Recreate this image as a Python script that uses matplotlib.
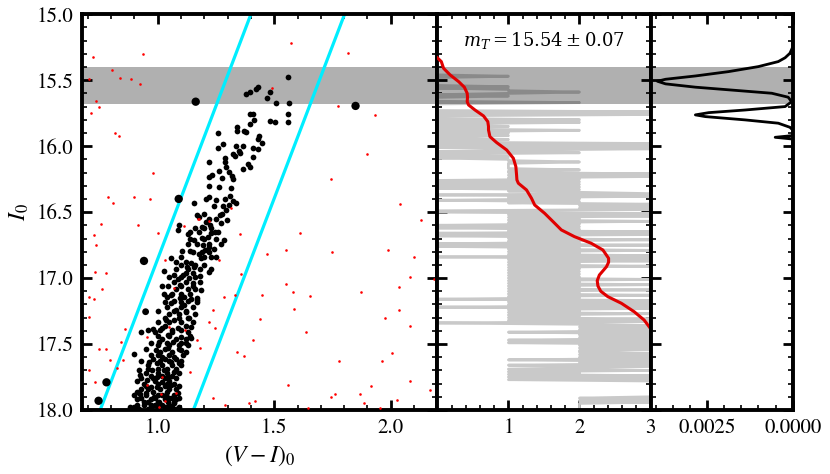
import matplotlib
matplotlib.use('Agg')
import matplotlib.pyplot as plt
from matplotlib.ticker import MultipleLocator, FixedLocator, FormatStrFormatter
import numpy as np

plt.rcParams['font.family'] = ['STIXGeneral', 'DejaVu Serif']
plt.rcParams['mathtext.fontset'] = 'stix'

# ---------------- data ----------------
# black CMD stars (V-I)_0 , I_0
rgb_color = [
    1.561, 1.432, 1.42, 1.397, 1.378, 1.48, 1.469, 1.507, 1.564, 1.395, 1.411, 1.414, 1.398, 1.482, 1.503, 1.561, 1.561,
    1.342, 1.339, 1.371, 1.377, 1.436, 1.26, 1.446, 1.432, 1.28, 1.258, 1.335, 1.367, 1.41, 1.432, 1.348, 1.323, 1.33,
    1.355, 1.29, 1.41, 1.29, 1.222, 1.294, 1.388, 1.395, 1.364, 1.263, 1.304, 1.234, 1.218, 1.319, 1.325, 1.276, 1.222,
    1.265, 1.316,
    1.219, 1.209, 1.252, 1.287, 1.31, 1.323, 1.338, 1.157, 1.304, 1.294, 1.277, 1.267, 1.198, 1.179, 1.169, 1.299, 1.27,
    1.208, 1.226, 1.189, 1.176, 1.131, 1.157, 1.189, 1.215, 1.229, 1.244, 1.283, 1.193, 1.169, 1.218, 1.241, 1.205, 1.103,
    1.139, 1.175, 1.229, 1.186, 1.121, 1.143, 1.058, 1.078, 1.126, 1.155, 1.219, 1.027, 1.071, 1.107, 1.183, 1.085, 1.136,
    1.15, 1.095, 1.045, 1.025, 1.056, 1.186, 1.168, 1.114, 1.092, 1.088,
    1.039, 1.097, 1.143, 1.169, 1.056, 1.114, 1.078, 1.121, 1.035, 1.071, 1.136, 0.981, 1.02, 1.085, 1.143, 0.929, 1.042,
    1.10, 1.006, 1.064, 1.121, 1.143, 0.991, 1.042, 1.10, 0.97, 0.897, 1.02, 1.071, 0.962, 0.999, 1.056, 1.092, 0.919,
    0.977, 1.027, 1.071, 0.926, 0.999, 1.049, 0.955, 1.02, 0.97, 0.999, 1.056, 1.085, 0.897, 0.923, 0.948, 0.984, 1.035,
    1.061, 0.941, 1.006, 1.042, 0.97, 1.071, 0.912, 0.883, 1.092,
]
rgb_mag = [
    15.478, 15.553, 15.569, 15.589, 15.607, 15.589, 15.632, 15.675, 15.675, 15.756, 15.756, 15.80, 15.834, 15.81, 15.82,
    15.76, 15.82, 15.854, 15.887, 15.882, 15.892, 15.92, 15.902, 15.976, 15.948, 15.983, 16.014, 16.001, 15.998, 16.011,
    16.019, 16.036, 16.059, 16.074, 16.049, 16.087, 16.084, 16.117, 16.122, 16.155, 16.137, 16.155, 16.173, 16.186,
    16.196, 16.216, 16.231, 16.226, 16.251, 16.243, 16.302, 16.312, 16.315,
    16.383, 16.40, 16.408, 16.40, 16.378, 16.413, 16.433, 16.433, 16.446, 16.484, 16.516, 16.522, 16.514, 16.535, 16.522,
    16.56, 16.58, 16.573, 16.597, 16.61, 16.648, 16.666, 16.711, 16.698, 16.686, 16.656, 16.648, 16.711, 16.749, 16.741,
    16.762, 16.782, 16.787, 16.792, 16.795, 16.817, 16.838, 16.85, 16.876, 16.888, 16.85, 16.876, 16.918, 16.918, 16.951,
    16.944, 16.977, 16.977, 16.982, 17.009, 17.002, 17.04, 17.052, 17.06, 17.121, 17.128, 17.09, 17.153, 17.146, 16.60,
    16.635,
    17.141, 17.153, 17.159, 17.166, 17.191, 17.204, 17.242, 17.255, 17.318, 17.318, 17.305, 17.386, 17.376, 17.381,
    17.368, 17.406, 17.431, 17.444, 17.482, 17.482, 17.494, 17.456, 17.545, 17.532, 17.545, 17.583, 17.578, 17.596,
    17.596, 17.634, 17.646, 17.634, 17.646, 17.697, 17.697, 17.697, 17.71, 17.735, 17.748, 17.748, 17.773, 17.786,
    17.824, 17.824, 17.811, 17.874, 17.886, 17.881, 17.874, 17.899, 17.886, 17.911, 17.937, 17.937, 17.942, 17.962,
    17.949, 17.962, 17.975, 17.975,
]
# densely packed lower-RGB stars (estimated within the crowded blob)
blob_color = [
    1.07, 1.13, 1.04, 1.10, 1.15, 1.05, 1.09, 1.16, 1.00, 1.05, 1.10, 1.15, 1.03, 1.12, 0.99, 1.06, 1.13, 1.02, 1.08,
    1.12, 1.00, 1.05, 1.09, 1.13, 1.01, 1.06, 1.12, 0.98, 1.03, 1.08, 0.96, 1.02, 1.06, 1.10, 0.95, 1.00, 1.04, 1.09,
    0.93, 0.98, 1.03, 1.08, 0.94, 1.00, 1.04, 1.07, 0.93, 0.96, 1.01, 1.05, 1.08, 0.95, 1.00, 1.02, 1.07, 0.91, 0.97,
    1.03, 1.08, 0.94, 0.99, 1.02, 1.05, 0.92, 0.96, 1.00, 1.04, 1.08,
    1.24, 1.28, 1.22, 1.25, 1.16, 1.20, 1.23, 1.14, 1.20, 1.25, 1.15, 1.19, 1.22, 1.10, 1.16, 1.20, 1.12, 1.15, 1.07,
    1.12, 1.18, 1.08, 1.13, 1.16, 1.06, 1.10, 1.14,
    1.14, 1.26, 1.13, 1.22, 1.27, 1.10, 1.20, 1.25, 1.08, 1.13, 1.18, 1.23, 1.05, 1.10, 1.16, 1.02, 1.10, 1.15, 1.03,
    1.10, 1.17, 1.00, 1.07, 1.12, 1.03, 1.09, 1.13, 0.96, 1.01, 1.06, 1.10, 1.00, 1.05, 1.14, 0.97, 1.04, 1.10, 0.95,
    1.03, 1.09, 1.00, 1.05, 1.11, 0.93, 1.01, 1.05, 1.10, 0.96, 1.00, 1.04, 1.08, 0.97, 1.02, 1.06, 0.91, 0.99, 1.05,
    0.95, 1.03, 1.09, 0.91, 0.98, 1.04, 0.93, 0.99, 1.05, 1.09, 0.96, 1.00, 1.07, 0.90, 0.97, 1.03, 1.06,
]
blob_mag = [
    17.17, 17.17, 17.22, 17.22, 17.22, 17.27, 17.27, 17.27, 17.33, 17.33, 17.33, 17.33, 17.36, 17.36, 17.41, 17.41,
    17.41, 17.46, 17.46, 17.46, 17.51, 17.51, 17.51, 17.51, 17.56, 17.56, 17.56, 17.61, 17.61, 17.61, 17.66, 17.66,
    17.66, 17.66, 17.72, 17.72, 17.72, 17.72, 17.76, 17.76, 17.76, 17.76, 17.80, 17.80, 17.80, 17.80, 17.84, 17.84,
    17.84, 17.84, 17.84, 17.89, 17.89, 17.89, 17.89, 17.92, 17.92, 17.92, 17.92, 17.96, 17.96, 17.96, 17.96, 17.99,
    17.99, 17.99, 17.99, 17.99,
    16.45, 16.45, 16.55, 16.55, 16.62, 16.62, 16.62, 16.70, 16.70, 16.70, 16.80, 16.80, 16.80, 16.90, 16.90, 16.90,
    16.96, 16.96, 17.03, 17.03, 17.03, 17.08, 17.08, 17.08, 17.12, 17.12, 17.12,
    16.65, 16.65, 16.74, 16.74, 16.74, 16.84, 16.84, 16.84, 16.93, 16.93, 16.93, 16.93, 16.99, 16.99, 16.99, 17.06,
    17.06, 17.06, 17.18, 17.18, 17.18, 17.25, 17.25, 17.25, 17.30, 17.30, 17.30, 17.39, 17.39, 17.39, 17.39, 17.44,
    17.44, 17.44, 17.49, 17.49, 17.49, 17.54, 17.54, 17.54, 17.58, 17.58, 17.58, 17.63, 17.63, 17.63, 17.63, 17.69,
    17.69, 17.69, 17.69, 17.74, 17.74, 17.74, 17.78, 17.78, 17.78, 17.82, 17.82, 17.82, 17.86, 17.86, 17.86, 17.91,
    17.91, 17.91, 17.91, 17.94, 17.94, 17.94, 17.98, 17.98, 17.98, 17.98,
]
# bright (large) stars
big_color = [1.163, 1.849, 1.09, 0.941, 0.78, 0.746, 0.948]
big_mag = [15.663, 15.695, 16.40, 16.87, 17.79, 17.93, 17.255]
big_size = [36, 36, 36, 36, 36, 36, 24]

# red field stars
field_color = [
    0.722, 0.935, 1.57, 1.815, 0.706, 0.802, 0.837, 0.885, 0.923, 0.737, 0.749, 0.713, 1.492, 1.775, 1.931, 0.815,
    0.835, 1.90, 0.978, 1.745, 0.785, 0.81, 0.90, 0.967, 2.04, 2.131, 0.756, 0.916, 1.315, 1.61, 1.003, 1.354, 0.726,
    1.113, 1.174, 1.221, 0.733, 1.468, 1.551, 1.749, 1.99, 2.10, 1.032, 1.263, 0.73, 0.776, 1.359, 1.551, 2.084, 2.185,
    0.759, 0.707, 0.726, 1.286, 1.33, 1.446, 1.58, 1.654, 1.871, 2.036, 1.583, 1.237, 2.035, 0.704, 1.437, 1.222, 1.975,
    1.244, 0.858, 1.638, 2.082, 0.955, 1.169, 1.408, 0.844, 0.748, 0.779, 1.183, 1.339, 1.369, 2.007, 0.795, 0.853,
    1.776, 1.962, 0.704, 0.827, 1.139, 0.729, 1.56, 2.081, 1.915, 2.17, 1.762, 1.743, 1.869, 2.027, 1.238, 1.416, 1.39,
    1.29, 1.886, 1.645, 1.955, 1.049, 1.118, 1.02, 1.013, 1.03, 1.078, 1.006, 0.955, 1.179, 1.071,
]
field_mag = [
    15.326, 15.303, 15.215, 15.291, 15.49, 15.422, 15.48, 15.488, 15.531, 15.657, 15.705, 15.746, 15.556, 15.695, 15.763,
    15.902, 15.92, 16.061, 16.205, 16.251, 16.383, 16.433, 16.383, 16.398, 16.438, 16.56, 16.588, 16.597, 16.466, 16.656,
    16.656, 16.663, 16.673, 16.603, 16.552, 16.569, 16.749, 16.817, 16.79, 16.805, 16.787, 16.843, 16.863, 16.865,
    16.951, 16.964, 16.971, 17.047, 16.994, 17.009, 17.08, 17.143, 17.161, 17.141, 17.126, 17.126, 17.105, 17.136,
    17.105, 17.065, 17.234, 17.242, 17.242, 17.293, 17.312, 17.335, 17.302, 17.381, 17.388, 17.411, 17.361, 17.444,
    17.469, 17.469, 17.482, 17.535, 17.538, 17.528, 17.563, 17.591, 17.571, 17.621, 17.619, 17.631, 17.629, 17.697,
    17.679, 17.71, 17.786, 17.811, 17.778, 17.82, 17.848, 17.876, 17.899, 17.876, 17.925, 17.909, 17.934, 17.945,
    17.962, 17.945, 17.987, 17.982, 17.373, 17.394, 17.753, 17.881, 17.932, 17.874, 17.975, 17.811, 16.555, 17.077,
]

# RGB selection box edges
box_mag = [15.0, 18.0]
box_blue = [1.40, 0.753]
box_red = [1.802, 1.153]

# tip band (m_T +- 2 sigma)
tip_mag = 15.54
tip_err = 0.07

# fine-binned luminosity function (counts per 0.01 mag bin from 15.40)
lf_start = 15.40
lf_step = 0.01
lf_counts = [
    0, 0, 0, 0, 0, 0, 0, 1, 0, 0,
    0, 0, 0, 0, 0, 1, 0, 1, 1, 2,
    1, 0, 1, 0, 0, 0, 0, 2, 0, 0,
    0, 0, 0, 0, 3, 0, 3, 0, 0, 0,
    2, 0, 2, 0, 0, 1, 0, 0, 2, 0,
    1, 0, 1, 0, 0, 1, 0, 0, 3, 0,
    3, 0, 3, 1, 0, 2, 0, 0, 1, 0,
    1, 1, 2, 1, 1, 1, 1, 1, 2, 1,
    1, 3, 1, 3, 1, 2, 0, 2, 0, 2,
    0, 2, 0, 2, 1, 2, 3, 0, 3, 1,
    2, 0, 2, 1, 3, 2, 3, 2, 3, 0,
    0, 3, 1, 3, 1, 2, 1, 3, 1, 2,
    0, 2, 0, 2, 1, 3, 0, 3, 0, 2,
    1, 3, 1, 2, 0, 3, 0, 2, 1, 3,
    1, 2, 1, 3, 0, 3, 1, 3, 1, 2,
    1, 3, 1, 2, 1, 2, 1, 2, 1, 2,
    1, 3, 1, 2, 1, 3, 1, 2, 1, 3,
    1, 2, 1, 3, 1, 2, 0, 3, 1, 3,
    1, 3, 0, 3, 1, 2, 1, 3, 1, 2,
    1, 3, 1, 3, 0, 2, 3, 2, 3, 2,
    3, 1, 3, 2, 3, 2, 3, 1, 3, 1,
    3, 2, 3, 2, 3, 2, 2, 3, 2, 3,
    2, 3, 1, 3, 2, 3, 1, 3, 2, 1,
    3, 1, 2, 1, 3, 1, 3, 1, 3, 3,
    3, 3, 3, 3, 3, 3, 3, 3, 3, 3,
    3, 2, 3, 2, 3, 2, 2, 2, 2, 2,
]

# smoothed luminosity function
slf_mag = [15.33, 15.359, 15.41, 15.46, 15.511, 15.553, 15.599, 15.63, 15.663, 15.688, 15.726, 15.771, 15.814,
           15.85, 15.877, 15.928, 15.973, 16.029, 16.092, 16.155, 16.218, 16.256, 16.281, 16.332, 16.395, 16.446,
           16.509, 16.573, 16.635, 16.686, 16.736, 16.787, 16.85, 16.88, 16.914, 16.977, 17.02, 17.06, 17.10,
           17.141, 17.191, 17.255, 17.318, 17.368, 17.42]
slf_val = [0.0, 0.056, 0.088, 0.18, 0.30, 0.38, 0.42, 0.425, 0.42, 0.44, 0.53, 0.65, 0.71,
           0.72, 0.72, 0.74, 0.835, 0.976, 1.07, 1.105, 1.115, 1.12, 1.14, 1.255, 1.325, 1.37,
           1.51, 1.63, 1.745, 1.93, 2.165, 2.33, 2.41, 2.41, 2.38, 2.28, 2.25, 2.26, 2.30,
           2.40, 2.59, 2.77, 2.91, 2.98, 3.05]

# edge-detection response
edge_mag = [15.0, 15.25, 15.296, 15.33, 15.359, 15.397, 15.435, 15.468, 15.493, 15.508, 15.528, 15.553, 15.579,
            15.599, 15.629, 15.663, 15.70, 15.726, 15.746, 15.763, 15.776, 15.801, 15.826, 15.857, 15.877, 15.92,
            15.933, 15.946, 18.0]
edge_val = [0.0, 0.0, 0.00008, 0.00022, 0.00042, 0.0010, 0.00187, 0.00284, 0.00371, 0.00395, 0.00371, 0.00284,
            0.00158, 0.00061, 0.00013, 0.00003, 0.00022, 0.00139, 0.00245, 0.00284, 0.00255, 0.00139, 0.00042,
            0.00008, 0.0, 0.0, 0.00051, 0.0, 0.0]

# ---------------- figure ----------------
fig = plt.figure(figsize=(8.3, 4.74), dpi=100)
gs = fig.add_gridspec(1, 3, width_ratios=[5, 3, 2], left=0.0988, right=0.955,
                      top=0.970, bottom=0.135, wspace=0)
ax1 = fig.add_subplot(gs[0])
ax2 = fig.add_subplot(gs[1], sharey=ax1)
ax3 = fig.add_subplot(gs[2], sharey=ax1)

band_lo, band_hi = tip_mag - 2 * tip_err, tip_mag + 2 * tip_err

# left: CMD
ax1.axhspan(band_lo, band_hi, color='k', alpha=0.31, lw=0, zorder=0.5)
ax1.plot(box_blue, box_mag, color='#00eeff', lw=2.3, zorder=2)
ax1.plot(box_red, box_mag, color='#00eeff', lw=2.3, zorder=2)
ax1.scatter(rgb_color, rgb_mag, s=17, c='k', lw=0, zorder=3)
ax1.scatter(blob_color, blob_mag, s=17, c='k', lw=0, zorder=3)
ax1.scatter(big_color, big_mag, s=big_size, c='k', lw=0, zorder=3)
ax1.scatter(field_color, field_mag, s=3.5, c='red', lw=0, zorder=4)
ax1.set_xlim(0.675, 2.2)
ax1.set_ylim(18.0, 15.0)
ax1.xaxis.set_major_locator(MultipleLocator(0.5))
ax1.xaxis.set_minor_locator(MultipleLocator(0.1))
ax1.yaxis.set_major_locator(MultipleLocator(0.5))
ax1.yaxis.set_minor_locator(MultipleLocator(0.1))
ax1.yaxis.set_major_formatter(FormatStrFormatter('%.1f'))
ax1.xaxis.set_major_formatter(FormatStrFormatter('%.1f'))
ax1.set_xlabel(r'$(V-I)_0$', fontsize=17, labelpad=4)
ax1.set_ylabel(r'$I_0$', fontsize=17, labelpad=4)

# middle: LF
lf_mags = lf_start + lf_step * np.arange(len(lf_counts))
ax2.plot(lf_counts, lf_mags, color='#c9c9c9', lw=2.0, zorder=2)
ax2.axhspan(band_lo, band_hi, color='k', alpha=0.31, lw=0, zorder=2.5)
ax2.plot(slf_val, slf_mag, color='#e00000', lw=2.2, zorder=3)
ax2.set_xlim(0, 3)
ax2.xaxis.set_major_locator(FixedLocator([1, 2, 3]))
ax2.xaxis.set_minor_locator(MultipleLocator(0.2))
ax2.text(1.5, 15.2, r'$m_T = 15.54 \pm 0.07$', ha='center', va='center', fontsize=13,
         math_fontfamily='dejavuserif')

# right: edge response
ax3.axhspan(band_lo, band_hi, color='k', alpha=0.31, lw=0, zorder=0.5)
ax3.plot(edge_val, edge_mag, color='k', lw=2.0, zorder=3)
ax3.set_xlim(0.00415, 0.0)
ax3.xaxis.set_major_locator(FixedLocator([0.0025, 0.0]))
ax3.xaxis.set_minor_locator(MultipleLocator(0.0005))
ax3.xaxis.set_major_formatter(FormatStrFormatter('%.4f'))

for ax in (ax1, ax2, ax3):
    for sp in ax.spines.values():
        sp.set_linewidth(2.8)
    ax.tick_params(which='both', direction='in', top=True, right=True, labelsize=15)
    ax.tick_params(which='major', length=7, width=2.0, pad=6)
    ax.tick_params(which='minor', length=3.5, width=1.2)
for ax in (ax2, ax3):
    ax.tick_params(labelleft=False)

fig.savefig('out.png', dpi=100)
